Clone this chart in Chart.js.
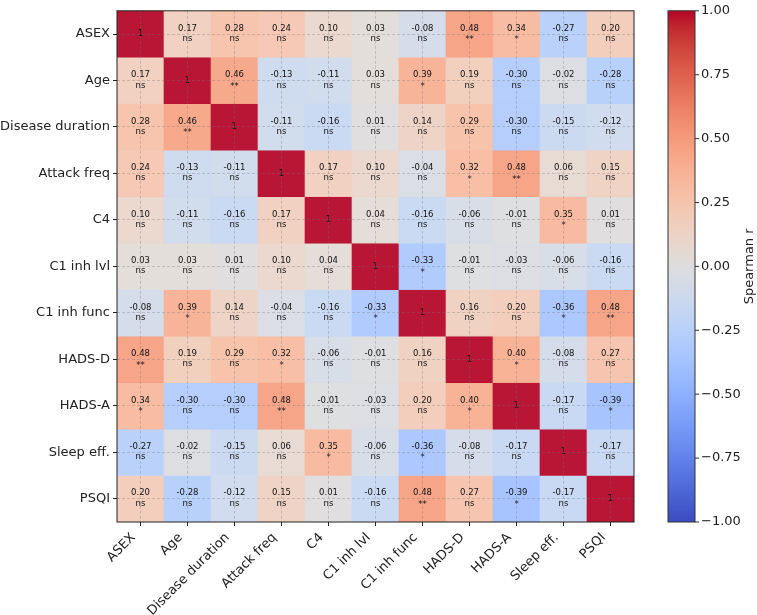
<!DOCTYPE html>
<html>
<head>
<meta charset="utf-8">
<script src="https://cdn.jsdelivr.net/npm/chart.js@4.4.1/dist/chart.umd.min.js"></script>
<style>
  html, body { margin: 0; padding: 0; background: #fff; }
  #wrap { width: 757px; height: 615px; }
</style>
</head>
<body>
<div id="wrap"><canvas id="heat" width="757" height="615"></canvas></div>
<script>
const labels = ['ASEX', 'Age', 'Disease duration', 'Attack freq', 'C4', 'C1 inh lvl', 'C1 inh func', 'HADS-D', 'HADS-A', 'Sleep eff.', 'PSQI'];

// Spearman r, one array per row
const rAsex     = [1, 0.17, 0.28, 0.24, 0.10, 0.03, -0.08, 0.48, 0.34, -0.27, 0.20];
const rAge      = [0.17, 1, 0.46, -0.13, -0.11, 0.03, 0.39, 0.19, -0.30, -0.02, -0.28];
const rDuration = [0.28, 0.46, 1, -0.11, -0.16, 0.01, 0.14, 0.29, -0.30, -0.15, -0.12];
const rAttack   = [0.24, -0.13, -0.11, 1, 0.17, 0.10, -0.04, 0.32, 0.48, 0.06, 0.15];
const rC4       = [0.10, -0.11, -0.16, 0.17, 1, 0.04, -0.16, -0.06, -0.01, 0.35, 0.01];
const rC1lvl    = [0.03, 0.03, 0.01, 0.10, 0.04, 1, -0.33, -0.01, -0.03, -0.06, -0.16];
const rC1func   = [-0.08, 0.39, 0.14, -0.04, -0.16, -0.33, 1, 0.16, 0.20, -0.36, 0.48];
const rHadsD    = [0.48, 0.19, 0.29, 0.32, -0.06, -0.01, 0.16, 1, 0.40, -0.08, 0.27];
const rHadsA    = [0.34, -0.30, -0.30, 0.48, -0.01, -0.03, 0.20, 0.40, 1, -0.17, -0.39];
const rSleep    = [-0.27, -0.02, -0.15, 0.06, 0.35, -0.06, -0.36, -0.08, -0.17, 1, -0.17];
const rPsqi     = [0.20, -0.28, -0.12, 0.15, 0.01, -0.16, 0.48, 0.27, -0.39, -0.17, 1];
const rows = [rAsex, rAge, rDuration, rAttack, rC4, rC1lvl, rC1func, rHadsD, rHadsA, rSleep, rPsqi];

// significance marks, same layout ('' on the diagonal)
const sAsex     = ['', 'ns', 'ns', 'ns', 'ns', 'ns', 'ns', '**', '*', 'ns', 'ns'];
const sAge      = ['ns', '', '**', 'ns', 'ns', 'ns', '*', 'ns', 'ns', 'ns', 'ns'];
const sDuration = ['ns', '**', '', 'ns', 'ns', 'ns', 'ns', 'ns', 'ns', 'ns', 'ns'];
const sAttack   = ['ns', 'ns', 'ns', '', 'ns', 'ns', 'ns', '*', '**', 'ns', 'ns'];
const sC4       = ['ns', 'ns', 'ns', 'ns', '', 'ns', 'ns', 'ns', 'ns', '*', 'ns'];
const sC1lvl    = ['ns', 'ns', 'ns', 'ns', 'ns', '', '*', 'ns', 'ns', 'ns', 'ns'];
const sC1func   = ['ns', '*', 'ns', 'ns', 'ns', '*', '', 'ns', 'ns', '*', '**'];
const sHadsD    = ['**', 'ns', 'ns', '*', 'ns', 'ns', 'ns', '', '*', 'ns', 'ns'];
const sHadsA    = ['*', 'ns', 'ns', '**', 'ns', 'ns', 'ns', '*', '', 'ns', '*'];
const sSleep    = ['ns', 'ns', 'ns', 'ns', '*', 'ns', '*', 'ns', 'ns', '', 'ns'];
const sPsqi     = ['ns', 'ns', 'ns', 'ns', 'ns', 'ns', '**', 'ns', '*', 'ns', ''];
const sigRows = [sAsex, sAge, sDuration, sAttack, sC4, sC1lvl, sC1func, sHadsD, sHadsA, sSleep, sPsqi];

const cbTicks = [1, 0.75, 0.5, 0.25, 0, -0.25, -0.5, -0.75, -1];

// matplotlib coolwarm, sampled
const coolwarm = [
  [59,76,192],[68,90,204],[77,104,215],[87,117,225],[98,130,234],[108,142,241],[119,154,247],[130,165,251],
  [141,176,254],[152,185,255],[163,194,255],[174,201,253],[184,208,249],[194,213,244],[204,217,238],[213,219,230],
  [221,221,221],[229,216,209],[236,211,197],[241,204,185],[245,196,173],[247,187,160],[247,177,148],[247,166,135],
  [244,154,123],[241,141,111],[236,127,99],[229,112,88],[222,96,77],[213,80,66],[203,62,56],[192,40,47],[180,4,38]
];

// cells are drawn slightly washed out, like the reference
function cmap(v, alpha) {
  const t = Math.min(1, Math.max(0, (v + 1) / 2)) * (coolwarm.length - 1);
  const i = Math.min(coolwarm.length - 2, Math.floor(t));
  const f = t - i;
  const a = coolwarm[i], b = coolwarm[i + 1];
  const c = a.map((x, k) => Math.round(x + (b[k] - x) * f));
  return `rgba(${c[0]},${c[1]},${c[2]},${alpha})`;
}

const font = '"DejaVu Sans", sans-serif';

const datasets = rows.map((row, i) => ({
  label: labels[i],
  data: row.map(() => [i, i + 1]),
  backgroundColor: row.map(v => cmap(v, 0.93)),
  borderWidth: 0,
  barPercentage: 1,
  categoryPercentage: 1,
  grouped: false
}));

const cellText = {
  id: 'cellText',
  afterDatasetsDraw(chart) {
    const { ctx, scales: { x, y } } = chart;
    ctx.save();
    ctx.font = '8.5px ' + font;
    ctx.fillStyle = '#111';
    ctx.textAlign = 'center';
    ctx.textBaseline = 'middle';
    rows.forEach((row, i) => {
      const cy = y.getPixelForValue(i + 0.5);
      row.forEach((v, j) => {
        const cx = x.getPixelForValue(j);
        if (i === j) {
          ctx.fillText('1', cx, cy);
          return;
        }
        ctx.fillText(v.toFixed(2), cx, cy - 5.5);
        const s = sigRows[i][j];
        ctx.fillText(s, cx, cy + (s === 'ns' ? 4.8 : 6));
      });
    });
    ctx.restore();
  }
};

const frameAndBar = {
  id: 'frameAndBar',
  afterDraw(chart) {
    const { ctx, chartArea: a } = chart;
    ctx.save();
    ctx.strokeStyle = '#222';
    ctx.lineWidth = 1;
    ctx.strokeRect(a.left, a.top, a.right - a.left, a.bottom - a.top);

    // colour bar
    const left = a.right + 34, w = 27, top = a.top, h = a.bottom - a.top;
    const g = ctx.createLinearGradient(0, top + h, 0, top);
    coolwarm.forEach((c, k) => g.addColorStop(k / (coolwarm.length - 1), `rgb(${c[0]},${c[1]},${c[2]})`));
    ctx.fillStyle = g;
    ctx.fillRect(left, top, w, h);
    ctx.strokeStyle = '#333';
    ctx.strokeRect(left, top, w, h);

    ctx.font = '13px ' + font;
    ctx.fillStyle = '#222';
    ctx.textAlign = 'left';
    ctx.textBaseline = 'middle';
    cbTicks.forEach(v => {
      const py = top + (1 - v) / 2 * h;
      ctx.beginPath();
      ctx.moveTo(left + w, py);
      ctx.lineTo(left + w + 4, py);
      ctx.stroke();
      ctx.fillText(v.toFixed(2).replace('-', '\u2212'), left + w + 6, py);
    });

    ctx.translate(left + w + 55, top + h / 2);
    ctx.rotate(-Math.PI / 2);
    ctx.textAlign = 'center';
    ctx.fillText('Spearman r', 0, 0);
    ctx.restore();
  }
};

new Chart(document.getElementById('heat'), {
  type: 'bar',
  data: { labels: labels, datasets: datasets },
  options: {
    responsive: false,
    animation: false,
    layout: { padding: { left: 0, right: 123, top: 5, bottom: 0 } },
    plugins: { legend: { display: false }, tooltip: { enabled: false } },
    scales: {
      x: {
        type: 'category',
        offset: true,
        grid: {
          offset: false, z: 1, color: 'rgba(110,110,110,0.45)', lineWidth: 0.7,
          tickColor: '#222', tickWidth: 1, tickLength: 4
        },
        border: { display: false, dash: [3, 2] },
        ticks: {
          autoSkip: false, maxRotation: 45, minRotation: 45, padding: 4, labelOffset: -7,
          color: '#222', font: { family: font, size: 13 }
        },
        afterFit(s) { s.height = 93; }
      },
      y: {
        type: 'linear',
        min: 0,
        max: 11,
        reverse: true,
        grid: {
          z: 1, color: 'rgba(110,110,110,0.45)', lineWidth: 0.7,
          tickColor: '#222', tickWidth: 1, tickLength: 4
        },
        border: { display: false, dash: [3, 2] },
        afterBuildTicks(s) { s.ticks = labels.map((_, i) => ({ value: i + 0.5 })); },
        ticks: {
          padding: 3, color: '#222', font: { family: font, size: 13 },
          callback: (v, i) => labels[i]
        },
        afterFit(s) { s.width = 117; }
      }
    }
  },
  plugins: [cellText, frameAndBar]
});
</script>
</body>
</html>
